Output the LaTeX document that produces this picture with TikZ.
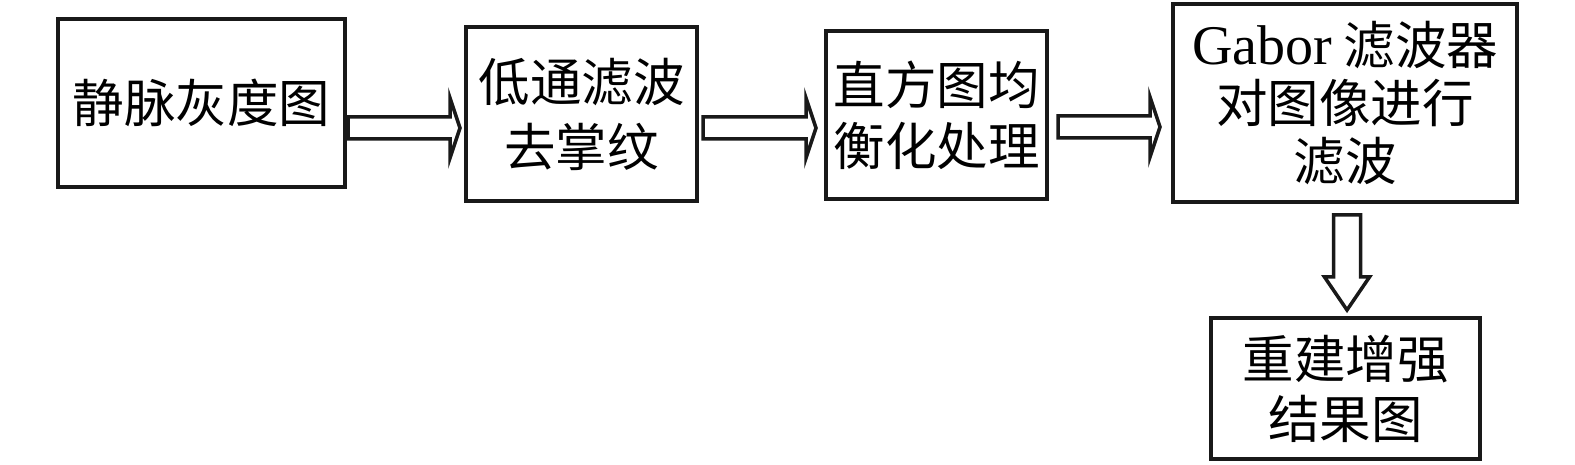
\documentclass[tikz,border=0pt]{standalone}
\usepackage{fontspec}
\setmainfont{Liberation Serif}
\newfontfamily\cjk{Noto Sans CJK SC}
\usetikzlibrary{calc}
\tikzset{
  box/.style={draw=black!90, line width=4pt, align=center, inner sep=0pt, font=\fontsize{51.5}{62}\selectfont\cjk},
  arr/.style={draw=black!90, line width=3.5pt, fill=white, line join=miter},
}
\newcommand\harr[2]{\draw[arr] let \p1=(#1), \p2=(#2) in
  (\x1,{\y1+11pt}) -- ({\x2-10pt},{\y1+11pt}) -- ({\x2-10pt},{\y1+30pt}) -- (\x2,\y1)
  -- ({\x2-10pt},{\y1-30pt}) -- ({\x2-10pt},{\y1-11pt}) -- (\x1,{\y1-11pt}) -- cycle;}
\newcommand\varr[2]{\draw[arr] let \p1=(#1), \p2=(#2) in
  ({\x1-13.5pt},\y1) -- ({\x1-13.5pt},{\y2+33pt}) -- ({\x1-22.5pt},{\y2+33pt}) -- (\x1,\y2)
  -- ({\x1+22.5pt},{\y2+33pt}) -- ({\x1+13.5pt},{\y2+33pt}) -- ({\x1+13.5pt},\y1) -- cycle;}
\begin{document}
\begin{tikzpicture}[x=1pt,y=-1pt]
\useasboundingbox (0,0) rectangle (1575,465);
\node[box, minimum width=287, minimum height=168] (b1) at (201.5,103) {静脉灰度图};
\node[box, minimum width=231, minimum height=174, font=\fontsize{51.5}{65}\selectfont\cjk] (b2) at (581.5,114) {低通滤波\\去掌纹};
\node[box, minimum width=221, minimum height=168, font=\fontsize{51.5}{61}\selectfont\cjk] (b3) at (936.5,115) {直方图均\\衡化处理};
\node[box, minimum width=344, minimum height=198, font=\fontsize{51.5}{58}\selectfont\cjk] (b4) at (1345,103) {{\rmfamily\fontsize{56}{58}\selectfont Gabor} 滤波器\\对图像进行\\滤波};
\node[box, minimum width=269, minimum height=141, font=\fontsize{51.5}{60}\selectfont\cjk] (b5) at (1345.5,388.5) {重建增强\\结果图};
\coordinate (a1s) at (348,128);
\coordinate (a1e) at (460,128);
\coordinate (a2s) at (703,128);
\coordinate (a2e) at (816,128);
\coordinate (a3s) at (1058,127);
\coordinate (a3e) at (1160,127);
\coordinate (a4s) at (1347,215);
\coordinate (a4e) at (1347,310);
\harr{a1s}{a1e}
\harr{a2s}{a2e}
\harr{a3s}{a3e}
\varr{a4s}{a4e}
\end{tikzpicture}
\end{document}
